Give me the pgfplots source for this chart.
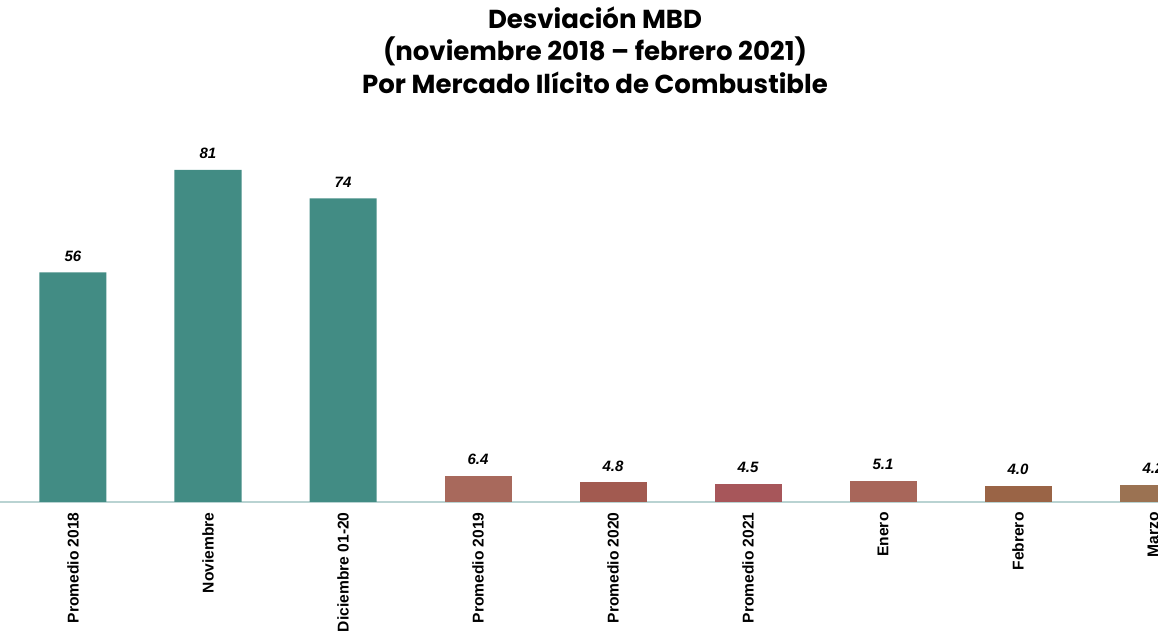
\documentclass[border=0pt]{standalone}
\usepackage{pgfplots}
\pgfplotsset{compat=1.18}
\usepackage{fontspec}
\setmainfont{Liberation Sans}
\newfontfamily\titlefont{Poppins}
\definecolor{teal1}{HTML}{428C84}
\definecolor{axl}{HTML}{B9D3D2}
\begin{document}
\begin{tikzpicture}
\begin{axis}[
  scale only axis,
  width=579pt, height=186pt,
  xmin=-0.5407, xmax=8.037,
  ymin=0, ymax=90.7,
  axis y line=none,
  axis x line*=bottom,
  x axis line style={axl, line width=1pt, -},
  xtick={0,...,8},
  xticklabels={Promedio 2018,Noviembre,Diciembre 01-20,Promedio 2019,Promedio 2020,Promedio 2021,Enero,Febrero,Marzo},
  major tick length=0pt,
  xticklabel style={rotate=90, anchor=east, font=\fontsize{7.8}{9}\selectfont\bfseries, inner sep=0pt, xshift=-5pt},
  ybar, bar width=33.5pt, bar shift=0pt,
  clip=false,
  nodes near coords,
  point meta=explicit symbolic,
  every node near coord/.append style={font=\fontsize{7.5}{9}\selectfont\bfseries\itshape, yshift=2pt},
]
\addplot[draw=none, fill=teal1] table[meta=l] {
x y l
0 56 56
1 81 81
2 74 74
};
\addplot[draw=none, fill={rgb,255:red,168;green,105;blue,92}] table[meta=l] {
x y l
3 6.4 6.4
};
\addplot[draw=none, fill={rgb,255:red,162;green,90;blue,80}] table[meta=l] {
x y l
4 4.8 4.8
};
\addplot[draw=none, fill={rgb,255:red,167;green,86;blue,90}] table[meta=l] {
x y l
5 4.5 4.5
};
\addplot[draw=none, fill={rgb,255:red,168;green,102;blue,90}] table[meta=l] {
x y l
6 5.1 5.1
};
\addplot[draw=none, fill={rgb,255:red,154;green,100;blue,70}] table[meta=l] {
x y l
7 4.0 4.0
};
\addplot[draw=none, fill={rgb,255:red,155;green,114;blue,82}] table[meta=l] {
x y l
8 4.2 4.2
};
\end{axis}
\node[align=center, font=\titlefont\bfseries\fontsize{13}{16.25}\selectfont] at ([xshift=297.5pt, yshift=226pt]current axis.south west)
  {Desviación MBD\\(noviembre 2018 – febrero 2021)\\Por Mercado Ilícito de Combustible};
\pgfresetboundingbox
\path[use as bounding box] ([yshift=-66.5pt]current axis.south west) rectangle ([yshift=251pt]current axis.south east);
\end{tikzpicture}
\end{document}
